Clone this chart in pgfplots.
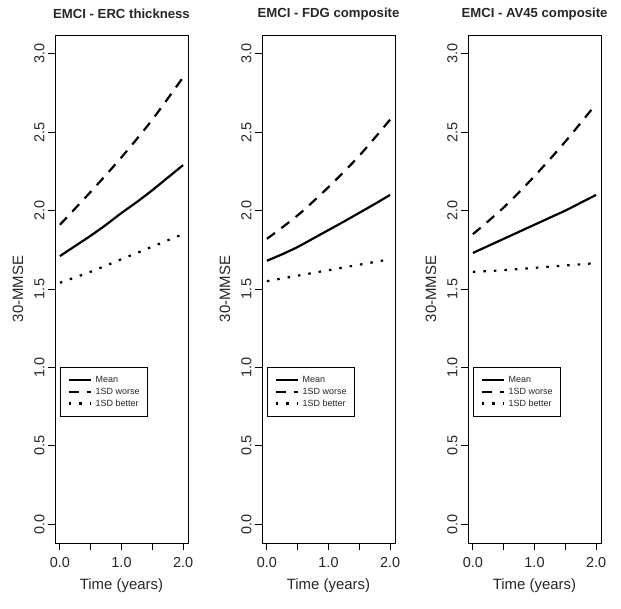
\documentclass[border=0pt]{standalone}
\usepackage{pgfplots}
\pgfplotsset{compat=1.18}
\usepackage{fontspec}
\setmainfont{Liberation Sans}
\pgfplotsset{
  emci/.style={
    scale only axis, width=133bp, height=508bp,
    anchor=south west,
    xmin=-0.08, xmax=2.08, ymin=-0.12, ymax=3.12,
    axis line style={line width=0.9bp},
    every tick/.style={line width=0.9bp, black},
    tick align=outside, major tick length=7bp,
    tick pos=left,
    xtick={0,0.5,1,1.5,2}, xticklabels={0.0,,1.0,,2.0},
    ytick={0,0.5,1,1.5,2,2.5,3}, yticklabels={0.0,0.5,1.0,1.5,2.0,2.5,3.0},
    /pgf/number format/assume math mode=true,
    ticklabel style={font=\fontsize{14.5}{16}\selectfont, text=black!85},
    xticklabel style={yshift=-4bp},
    yticklabel style={rotate=90, anchor=south, xshift=0bp},
    xlabel={Time (years)}, ylabel={30-MMSE},
    label style={font=\fontsize{15}{17}\selectfont, text=black!85},
    xlabel style={at={(axis description cs:0.5,0)}, anchor=center, yshift=-43bp},
    ylabel style={at={(axis description cs:-0.278,0.5)}, anchor=center},
    title style={at={(axis description cs:0.5,1)}, anchor=center, yshift=15bp,
      font=\bfseries\fontsize{13.2}{15}\selectfont, text=black!85},
    legend style={at={(rel axis cs:0.038,0.347)}, anchor=north west, draw=black,
      line width=0.8bp, font=\fontsize{9}{10}\selectfont, text=black!85,
      inner xsep=7bp, inner ysep=8bp, row sep=2bp, column sep=3bp,
      nodes={inner sep=1bp, anchor=west}},
    legend cell align=left,
    legend image code/.code={\draw[##1] (0bp,0bp) -- (22bp,0bp);},
  },
  meanline/.style={black, line width=2.2bp, line join=round, smooth},
  worseline/.style={black, line width=2.2bp, dash pattern=on 10bp off 8bp, smooth},
  betterline/.style={black, line width=2.2bp, dash pattern=on 2.5bp off 8bp, smooth},
}
\begin{document}
\begin{tikzpicture}
\path[use as bounding box] (0,0) rectangle (621bp,609bp);
% Panel 1
\begin{axis}[emci, at={(55bp,66bp)}, title={EMCI - ERC thickness}]
\addplot[meanline] coordinates {(0,1.71) (0.25,1.775) (0.5,1.84) (0.75,1.91) (1,1.985) (1.25,2.055) (1.5,2.13) (1.75,2.21) (2,2.29)};
\addplot[worseline] coordinates {(0,1.91) (0.5,2.12) (1,2.34) (1.5,2.58) (2,2.85)};
\addplot[betterline] coordinates {(0,1.54) (0.5,1.61) (1,1.69) (1.5,1.77) (2,1.85)};
\legend{Mean,1SD worse,1SD better}
\end{axis}
% Panel 2
\begin{axis}[emci, at={(262bp,66bp)}, title={EMCI - FDG composite}]
\addplot[meanline] coordinates {(0,1.68) (0.25,1.722) (0.5,1.768) (0.75,1.822) (1,1.876) (1.25,1.93) (1.5,1.986) (1.75,2.042) (2,2.10)};
\addplot[worseline] coordinates {(0,1.82) (0.5,1.97) (1,2.15) (1.5,2.35) (2,2.58)};
\addplot[betterline] coordinates {(0,1.55) (0.5,1.585) (1,1.62) (1.5,1.655) (2,1.69)};
\legend{Mean,1SD worse,1SD better}
\end{axis}
% Panel 3
\begin{axis}[emci, at={(468bp,66bp)}, title={EMCI - AV45 composite}]
\addplot[meanline] coordinates {(0,1.73) (0.25,1.775) (0.5,1.82) (0.75,1.865) (1,1.91) (1.25,1.955) (1.5,2.00) (1.75,2.05) (2,2.10)};
\addplot[worseline] coordinates {(0,1.85) (0.5,2.02) (1,2.22) (1.5,2.44) (2,2.68)};
\addplot[betterline] coordinates {(0,1.61) (0.5,1.62) (1,1.635) (1.5,1.65) (2,1.665)};
\legend{Mean,1SD worse,1SD better}
\end{axis}
\end{tikzpicture}
\end{document}
